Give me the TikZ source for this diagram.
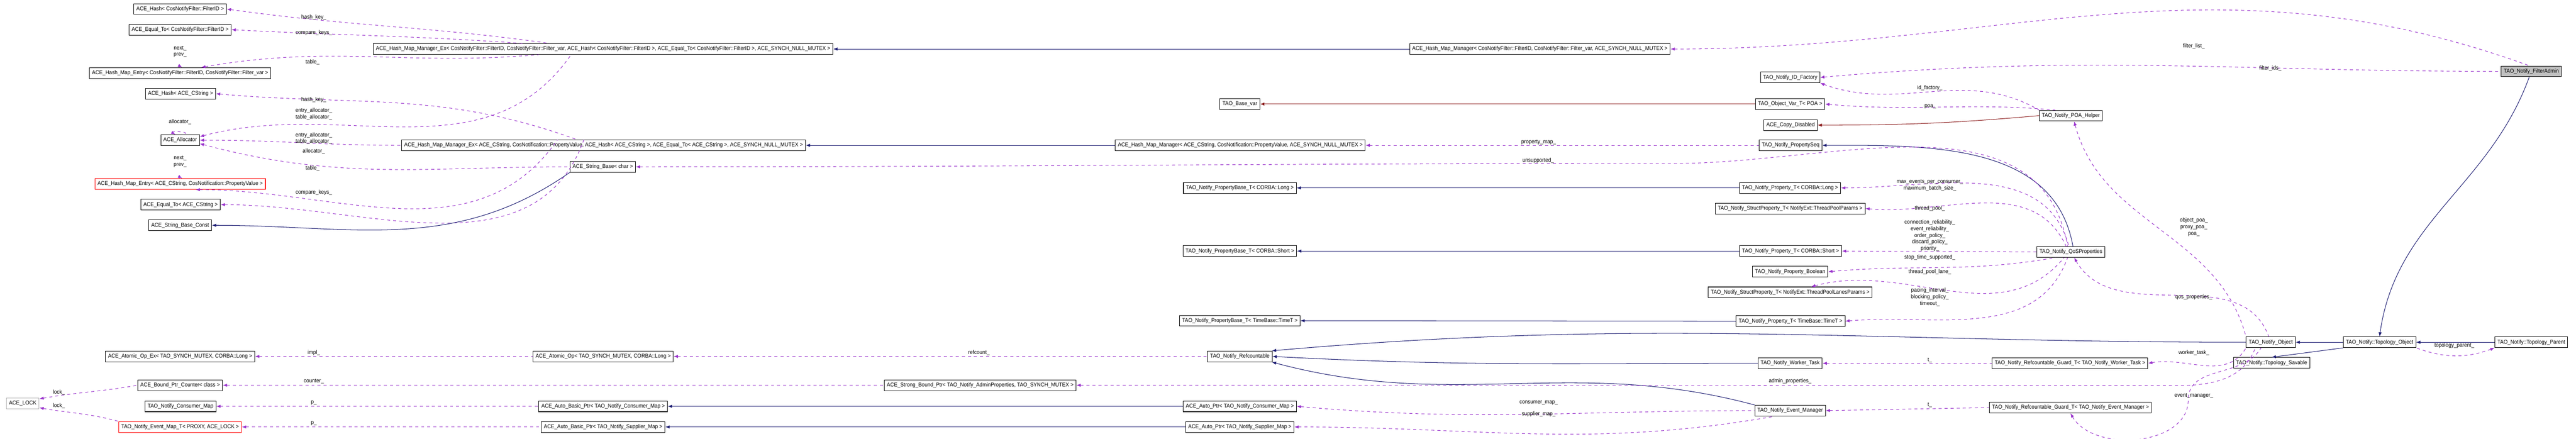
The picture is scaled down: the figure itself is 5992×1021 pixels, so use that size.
\documentclass[tikz,border=0pt]{standalone}
\usepackage{fontspec}
\setmainfont{Liberation Sans}[FakeStretch=0.92]
\usetikzlibrary{arrows.meta}

\definecolor{inhblue}{RGB}{25,25,112}
\definecolor{usepurple}{RGB}{153,50,204}
\definecolor{privred}{RGB}{139,26,26}
\newcommand{\lt}{\textless}
\newcommand{\gtr}{\textgreater}

\begin{document}
\begin{tikzpicture}[x=0.01cm, y=-0.01cm,
    every node/.style={font=\fontsize{3.7}{4.3}\selectfont},
    % Styles
    cls/.style={draw=black, line width=0.35pt, fill=white, inner xsep=0.06cm, inner ysep=0pt, minimum height=0.25cm},
    clsred/.style={cls, draw=red},
    clsgray/.style={cls, draw=gray!60},
    clsroot/.style={cls, fill=gray!50},
    inh/.style={{Latex[length=0.1cm,width=0.075cm]}-, inhblue, line width=0.35pt},
    priv/.style={{Latex[length=0.1cm,width=0.075cm]}-, privred, line width=0.35pt},
    use/.style={{Latex[length=0.1cm,width=0.075cm]}-, usepurple, dashed, dash pattern=on 2pt off 2pt, line width=0.35pt},
    lbl/.style={align=center, inner sep=0pt},
]
\useasboundingbox (0,0) rectangle (5992,1021);

% Left column
\node[cls] (hashF) at (419,21) {ACE\_Hash\lt{} CosNotifyFilter::FilterID \gtr};
\node[cls] (eqF) at (419,69) {ACE\_Equal\_To\lt{} CosNotifyFilter::FilterID \gtr};
\node[cls] (entryF) at (419,170) {ACE\_Hash\_Map\_Entry\lt{} CosNotifyFilter::FilterID, CosNotifyFilter::Filter\_var \gtr};
\node[cls] (hashS) at (420,218) {ACE\_Hash\lt{} ACE\_CString \gtr};
\node[cls] (alloc) at (419,326) {ACE\_Allocator};
\node[clsred] (entryS) at (419,428) {ACE\_Hash\_Map\_Entry\lt{} ACE\_CString, CosNotification::PropertyValue \gtr};
\node[cls] (eqS) at (420,476) {ACE\_Equal\_To\lt{} ACE\_CString \gtr};
\node[cls] (strConst) at (419,524) {ACE\_String\_Base\_Const};
\node[cls] (atomicEx) at (419,829) {ACE\_Atomic\_Op\_Ex\lt{} TAO\_SYNCH\_MUTEX, CORBA::Long \gtr};
\node[cls] (boundCnt) at (419,896) {ACE\_Bound\_Ptr\_Counter\lt{} class \gtr};
\node[clsgray] (aceLock) at (53,938) {ACE\_LOCK};
\node[cls] (consMap) at (420,945) {TAO\_Notify\_Consumer\_Map};
\node[clsred] (eventMapT) at (419,993) {TAO\_Notify\_Event\_Map\_T\lt{} PROXY, ACE\_LOCK \gtr};

% Second column
\node[cls] (hashMgrExF) at (1403,114) {ACE\_Hash\_Map\_Manager\_Ex\lt{} CosNotifyFilter::FilterID, CosNotifyFilter::Filter\_var, ACE\_Hash\lt{} CosNotifyFilter::FilterID \gtr, ACE\_Equal\_To\lt{} CosNotifyFilter::FilterID \gtr, ACE\_SYNCH\_NULL\_MUTEX \gtr};
\node[cls] (hashMgrExS) at (1404,338) {ACE\_Hash\_Map\_Manager\_Ex\lt{} ACE\_CString, CosNotification::PropertyValue, ACE\_Hash\lt{} ACE\_CString \gtr, ACE\_Equal\_To\lt{} ACE\_CString \gtr, ACE\_SYNCH\_NULL\_MUTEX \gtr};
\node[cls] (strBase) at (1402,388) {ACE\_String\_Base\lt{} char \gtr};
\node[cls] (atomic) at (1403,829) {ACE\_Atomic\_Op\lt{} TAO\_SYNCH\_MUTEX, CORBA::Long \gtr};
\node[cls] (autoBasicC) at (1403,945) {ACE\_Auto\_Basic\_Ptr\lt{} TAO\_Notify\_Consumer\_Map \gtr};
\node[cls] (autoBasicS) at (1403,993) {ACE\_Auto\_Basic\_Ptr\lt{} TAO\_Notify\_Supplier\_Map \gtr};
\node[cls] (strongBound) at (2280,896) {ACE\_Strong\_Bound\_Ptr\lt{} TAO\_Notify\_AdminProperties, TAO\_SYNCH\_MUTEX \gtr};

% Third column
\node[cls] (hashMgrF) at (3582,114) {ACE\_Hash\_Map\_Manager\lt{} CosNotifyFilter::FilterID, CosNotifyFilter::Filter\_var, ACE\_SYNCH\_NULL\_MUTEX \gtr};
\node[cls] (baseVar) at (2884,242) {TAO\_Base\_var};
\node[cls] (hashMgrS) at (2885,338) {ACE\_Hash\_Map\_Manager\lt{} ACE\_CString, CosNotification::PropertyValue, ACE\_SYNCH\_NULL\_MUTEX \gtr};
\node[cls] (propBaseLong) at (2884,437) {TAO\_Notify\_PropertyBase\_T\lt{} CORBA::Long \gtr};
\node[cls] (propBaseShort) at (2884,584) {TAO\_Notify\_PropertyBase\_T\lt{} CORBA::Short \gtr};
\node[cls] (propBaseTime) at (2884,746) {TAO\_Notify\_PropertyBase\_T\lt{} TimeBase::TimeT \gtr};
\node[cls] (refcountable) at (2884,829) {TAO\_Notify\_Refcountable};
\node[cls] (autoPtrC) at (2884,945) {ACE\_Auto\_Ptr\lt{} TAO\_Notify\_Consumer\_Map \gtr};
\node[cls] (autoPtrS) at (2884,993) {ACE\_Auto\_Ptr\lt{} TAO\_Notify\_Supplier\_Map \gtr};

% Fourth column
\node[cls] (idFactory) at (4164,180) {TAO\_Notify\_ID\_Factory};
\node[cls] (objVar) at (4164,242) {TAO\_Object\_Var\_T\lt{} POA \gtr};
\node[cls] (copyDis) at (4165,291) {ACE\_Copy\_Disabled};
\node[cls] (propSeq) at (4165,338) {TAO\_Notify\_PropertySeq};
\node[cls] (propLong) at (4164,437) {TAO\_Notify\_Property\_T\lt{} CORBA::Long \gtr};
\node[cls] (spThread) at (4164,485) {TAO\_Notify\_StructProperty\_T\lt{} NotifyExt::ThreadPoolParams \gtr};
\node[cls] (propShort) at (4165,584) {TAO\_Notify\_Property\_T\lt{} CORBA::Short \gtr};
\node[cls] (propBool) at (4164,632) {TAO\_Notify\_Property\_Boolean};
\node[cls] (spLanes) at (4164,680) {TAO\_Notify\_StructProperty\_T\lt{} NotifyExt::ThreadPoolLanesParams \gtr};
\node[cls] (propTime) at (4165,747) {TAO\_Notify\_Property\_T\lt{} TimeBase::TimeT \gtr};
\node[cls] (workerTask) at (4164,845) {TAO\_Notify\_Worker\_Task};
\node[cls] (eventMgr) at (4164,955) {TAO\_Notify\_Event\_Manager};

% Right part
\node[cls] (poaHelper) at (4817,269) {TAO\_Notify\_POA\_Helper};
\node[cls] (qos) at (4817,586) {TAO\_Notify\_QoSProperties};
\node[cls] (guardWorker) at (4815,845) {TAO\_Notify\_Refcountable\_Guard\_T\lt{} TAO\_Notify\_Worker\_Task \gtr};
\node[cls] (guardEM) at (4816,948) {TAO\_Notify\_Refcountable\_Guard\_T\lt{} TAO\_Notify\_Event\_Manager \gtr};
\node[cls] (notifyObject) at (5282,796) {TAO\_Notify\_Object};
\node[cls] (topoSavable) at (5284,844) {TAO\_Notify::Topology\_Savable};
\node[cls] (topoObj) at (5535,796) {TAO\_Notify::Topology\_Object};
\node[cls] (topoParent) at (5888,796) {TAO\_Notify::Topology\_Parent};
\node[clsroot] (filterAdmin) at (5888,166) {TAO\_Notify\_FilterAdmin};

% Hash map (filter)
\draw[use] (hashF.east) to[out=-8,in=172] (hashMgrExF.174);
\draw[use] (eqF.east) to[out=-3,in=176] (hashMgrExF.176);
\draw[use] (entryF.15) to[out=10,in=185] (hashMgrExF.185);
\draw[use] (alloc.10) to[out=15,in=235] (hashMgrExF.190);
\draw[use] (entryF.70) to[out=150,in=30,looseness=0.7] (entryF.110);
\node[lbl] (lHashF) at (730,40) {hash\_key\_};
\node[lbl] (lEqF) at (730,76) {compare\_keys\_};
\node[lbl] (lTabF) at (727,144) {table\_};
\node[lbl] (lNextF) at (419,120) {next\_\\prev\_};
\node[lbl] (lAllocF) at (730,265) {entry\_allocator\_\\table\_allocator\_};

% Hash map (string)
\draw[use] (hashS.east) to[out=-5,in=160] (hashMgrExS.168);
\draw[use] (alloc.east) to[out=0,in=180] (hashMgrExS.west);
\draw[use] (entryS.-20) to[out=0,in=235] (hashMgrExS.173);
\draw[use] (eqS.east) to[out=0,in=250] (hashMgrExS.164);
\draw[use] (alloc.130) to[out=150,in=30,looseness=1.8] (alloc.50);
\draw[use] (entryS.70) to[out=150,in=30,looseness=0.7] (entryS.110);
\draw[use] (alloc.-10) to[out=-15,in=180] (strBase.west);
\node[lbl] (lHashS) at (730,232) {hash\_key\_};
\node[lbl] (lAllocS) at (730,322) {entry\_allocator\_\\table\_allocator\_};
\node[lbl] (lAllocSelf) at (419,283) {allocator\_};
\node[lbl] (lAllocStr) at (730,352) {allocator\_};
\node[lbl] (lTabS) at (727,391) {table\_};
\node[lbl] (lNextS) at (419,376) {next\_\\prev\_};
\node[lbl] (lEqS) at (730,448) {compare\_keys\_};

% Inheritance
\draw[inh] (hashMgrExF.east) -- (hashMgrF.west);
\draw[inh] (hashMgrExS.east) -- (hashMgrS.west);
\draw[inh] (strConst.east) to[out=0,in=215] (strBase.south west);
\draw[inh] (autoBasicC.east) -- (autoPtrC.west);
\draw[inh] (autoBasicS.east) -- (autoPtrS.west);
\draw[inh] (propBaseLong.east) -- (propLong.west);
\draw[inh] (propBaseShort.east) -- (propShort.west);
\draw[inh] (propBaseTime.east) -- (propTime.west);
\draw[priv] (baseVar.east) -- (objVar.west);
\draw[priv] (copyDis.east) to[out=0,in=185] (poaHelper.west);
\draw[inh] (propSeq.east) to[out=0,in=100] (qos.70);
\draw[inh] (refcountable.10) to[out=5,in=180] (notifyObject.west);
\draw[inh] (refcountable.east) to[out=-3,in=180] (workerTask.west);
\draw[inh] (refcountable.-10) to[out=-15,in=165] (eventMgr.north west);
\draw[inh] (notifyObject.east) -- (topoObj.west);
\draw[inh] (topoObj.east) -- (topoParent.west);
\draw[inh] (topoSavable.north) -- (topoObj.south west);
\draw[inh] (topoObj.north) to[out=82,in=250] (filterAdmin.250);

% Filter admin and POA
\draw[use] (hashMgrF.east) to[out=0,in=160] (filterAdmin.110);
\draw[use] (idFactory.east) to[out=5,in=180] (filterAdmin.west);
\draw[use] (idFactory.south east) to[out=-20,in=150] (poaHelper.north west);
\draw[use] (objVar.east) to[out=-5,in=175] (poaHelper.160);
\draw[use] (poaHelper.-60) to[out=-75,in=105] (notifyObject.north west);
\draw[use] (qos.-60) to[out=-60,in=110] (notifyObject.110);
\node[lbl] (lFilterList) at (5103,107) {filter\_list\_};
\node[lbl] (lFilterIds) at (5281,159) {filter\_ids\_};
\node[lbl] (lIdFac) at (4489,205) {id\_factory\_};
\node[lbl] (lPoa) at (4490,248) {poa\_};
\node[lbl] (lObjPoa) at (5103,528) {object\_poa\_\\proxy\_poa\_\\poa\_};
\node[lbl] (lQos) at (5103,691) {qos\_properties\_};

% QoS properties
\draw[use] (hashMgrS.east) -- (propSeq.west);
\draw[use] (strBase.east) to[out=0,in=180] (3900,380) to[out=0,in=100] (qos.120);
\draw[use] (propLong.east) to[out=0,in=105] (qos.110);
\draw[use] (spThread.east) to[out=-5,in=115] (qos.130);
\draw[use] (propShort.east) -- (qos.west);
\draw[use] (propBool.east) to[out=5,in=190] (qos.200);
\draw[use] (spLanes.15) to[out=15,in=230] (qos.220);
\draw[use] (propTime.east) to[out=5,in=250] (qos.240);
\node[lbl] (lPropMap) at (3579,331) {property\_map\_};
\node[lbl] (lUnsup) at (3578,373) {unsupported\_};
\node[lbl] (lMaxEv) at (4489,431) {max\_events\_per\_consumer\_\\maximum\_batch\_size\_};
\node[lbl] (lThrPool) at (4489,485) {thread\_pool\_};
\node[lbl] (lConn) at (4489,548) {connection\_reliability\_\\event\_reliability\_\\order\_policy\_\\discard\_policy\_\\priority\_};
\node[lbl] (lStop) at (4489,599) {stop\_time\_supported\_};
\node[lbl] (lLane) at (4489,632) {thread\_pool\_lane\_};
\node[lbl] (lPacing) at (4489,691) {pacing\_interval\_\\blocking\_policy\_\\timeout\_};

% Notify object members
\draw[use] (topoParent.south west) to[out=200,in=-20] (topoObj.south east);
\draw[use] (guardWorker.east) to[out=10,in=240] (notifyObject.south west);
\draw[use] (workerTask.east) -- (guardWorker.west);
\draw[use] (strongBound.east) to[out=0,in=180] (5060,897) to[out=0,in=250] (notifyObject.200);
\draw[use] (guardEM.south) to[out=-60,in=-90] (5090,930) to[out=90,in=240] (notifyObject.210);
\draw[use] (eventMgr.east) -- (guardEM.west);
\draw[use] (autoPtrC.east) to[out=-5,in=180] (eventMgr.west);
\draw[use] (autoPtrS.east) to[out=0,in=190] (eventMgr.200);
\node[lbl] (lTopoPar) at (5709,804) {topology\_parent\_};
\node[lbl] (lWorker) at (5103,821) {worker\_task\_};
\node[lbl] (lTw) at (4489,838) {t\_};
\node[lbl] (lAdmin) at (4164,887) {admin\_properties\_};
\node[lbl] (lEvMgr) at (5103,920) {event\_manager\_};
\node[lbl] (lTe) at (4489,942) {t\_};
\node[lbl] (lCons) at (3579,937) {consumer\_map\_};
\node[lbl] (lSupp) at (3579,963) {supplier\_map\_};

% Bottom left
\draw[use] (atomic.east) -- (refcountable.west);
\draw[use] (atomicEx.east) -- (atomic.west);
\draw[use] (boundCnt.east) -- (strongBound.west);
\draw[use] (consMap.east) -- (autoBasicC.west);
\draw[use] (eventMapT.east) -- (autoBasicS.west);
\draw[use] (aceLock.15) to[out=10,in=190] (boundCnt.west);
\draw[use] (aceLock.-15) to[out=-10,in=165] (eventMapT.north west);
\node[lbl] (lRef) at (2277,821) {refcount\_};
\node[lbl] (lImpl) at (730,821) {impl\_};
\node[lbl] (lCounter) at (730,887) {counter\_};
\node[lbl] (lPc) at (730,937) {p\_};
\node[lbl] (lPs) at (730,985) {p\_};
\node[lbl] (lLock1) at (137,913) {lock\_};
\node[lbl] (lLock2) at (137,944) {lock\_};

\end{tikzpicture}
\end{document}
